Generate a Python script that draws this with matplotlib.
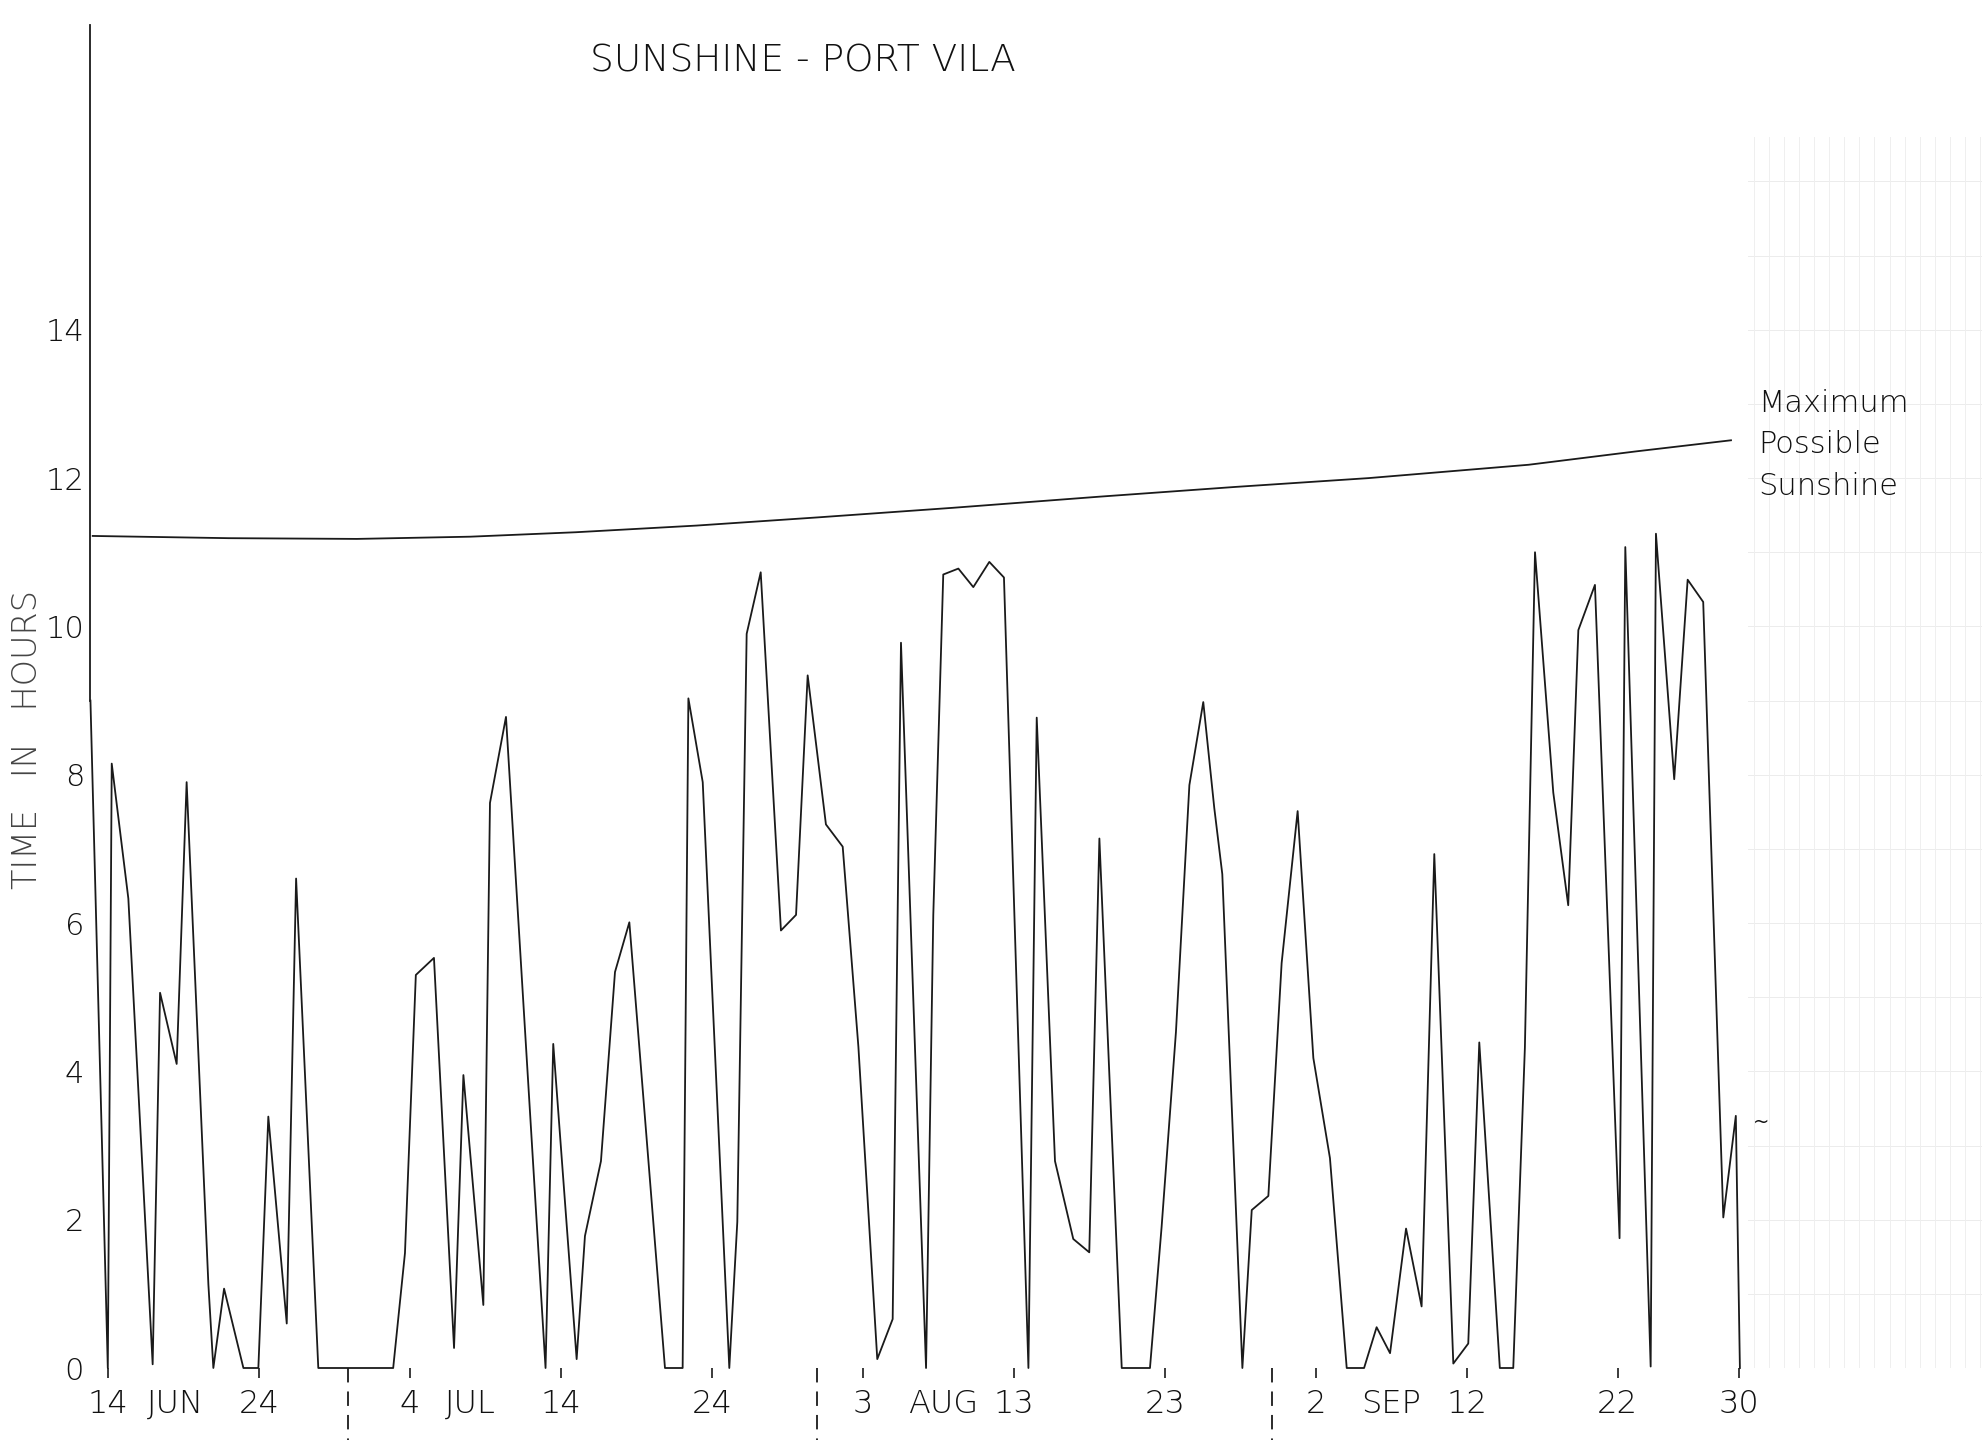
# Sunshine at Port Vila, 14 June - 30 September (redrawn from a hand plotted chart)
import matplotlib
matplotlib.use("Agg")
import matplotlib.pyplot as plt

# daily sunshine, x = days after 14 June
days = [-1.15, 0.0, 0.26, 1.36, 2.97, 3.46, 4.56, 5.22, 6.66, 6.99, 7.7, 8.98,
        9.97, 10.63, 11.85, 12.47, 13.94, 18.9, 19.68, 20.4, 21.6, 22.93, 23.55,
        24.87, 25.31, 26.37, 28.99, 29.5, 31.05, 31.6, 32.66, 33.59, 34.54, 36.9,
        38.07, 38.45, 39.4, 41.16, 41.69, 42.31, 43.24, 44.58, 45.58, 46.35, 47.56,
        48.67, 49.71, 50.96, 51.98, 52.53, 54.19, 54.67, 55.33, 56.33, 57.32, 58.38,
        59.35, 60.97, 61.52, 62.73, 63.94, 65.0, 65.67, 67.15, 69.02, 69.79, 70.74,
        71.63, 72.55, 73.28, 73.81, 75.14, 75.76, 76.86, 77.74, 78.8, 79.84, 80.94,
        82.05, 83.2, 84.03, 84.92, 85.98, 87.01, 87.85, 89.11, 90.1, 90.83, 92.19,
        93.08, 93.85, 94.52, 95.73, 96.72, 97.39, 98.49, 100.12, 100.5, 102.18,
        102.53, 103.74, 104.63, 105.66, 106.99, 107.82, 108.09]
hours = [9.0, 0.0, 8.15, 6.33, 0.05, 5.06, 4.1, 7.9, 1.13, 0.0, 1.07, 0.0,
         0.0, 3.39, 0.6, 6.6, 0.0, 0.0, 1.55, 5.3, 5.53, 0.27, 3.95,
         0.85, 7.62, 8.78, 0.0, 4.37, 0.12, 1.78, 2.79, 5.34, 6.01, 0.0,
         0.0, 9.03, 7.9, 0.0, 1.97, 9.9, 10.73, 5.9, 6.11, 9.34, 7.33,
         7.03, 4.33, 0.12, 0.66, 9.78, 0.0, 6.11, 10.7, 10.78, 10.53, 10.87,
         10.66, 0.0, 8.77, 2.79, 1.74, 1.56, 7.14, 0.0, 0.0, 1.9, 4.53,
         7.86, 8.98, 7.55, 6.66, 0.0, 2.13, 2.32, 5.46, 7.51, 4.18, 2.83,
         0.0, 0.0, 0.55, 0.2, 1.88, 0.83, 6.93, 0.06, 0.33, 4.39, 0.0,
         0.0, 4.32, 11.0, 7.76, 6.24, 9.95, 10.56, 1.75, 11.07, 0.02,
         11.25, 7.94, 10.63, 10.33, 2.03, 3.4, 0.0]

# maximum possible sunshine curve
max_days = [-1.0, 8, 16.5, 24, 31, 39, 47, 56, 65.7, 74.6, 83.5, 94.1, 101.2, 107.5]
max_hours = [11.22, 11.19, 11.18, 11.21, 11.27, 11.36, 11.47, 11.6, 11.75, 11.88,
             12.0, 12.18, 12.36, 12.51]

tick_days = [0, 10, 20, 30, 40, 50, 60, 70, 80, 90, 100, 108]
tick_labels = ["14", "24", "4", "14", "24", "3", "13", "23", "2", "12", "22", "30"]
month_names = ["JUN", "JUL", "AUG", "SEP"]
month_label_days = [4.5, 24.0, 55.3, 85.0]
month_break_days = [15.9, 47.0, 77.1]

ink = "#1a1a1a"
txt = "#111111"

fig = plt.figure(figsize=(19.83, 14.40), dpi=100)
ax = fig.add_axes([0.04523, 0.05, 0.95477, 0.93264])
ax.set_xlim(-1.2, 124.19)
ax.set_ylim(0, 18.11)

# faint graph paper showing through on the right hand side
for h in range(1, 17):
    ax.plot([108.6, 124.2], [h, h], color="#ececec", lw=0.7, zorder=0)
for d in range(109, 125):
    ax.plot([d, d], [0, 16.6], color="#efefef", lw=0.7, zorder=0)

for s in ["top", "right", "bottom"]:
    ax.spines[s].set_visible(False)
ax.spines["left"].set_bounds(9.0, 18.11)
ax.spines["left"].set_color(ink)
ax.spines["left"].set_linewidth(1.3)

ax.plot(days, hours, color=ink, lw=1.3, clip_on=False)
ax.plot(max_days, max_hours, color=ink, lw=1.3)

# month boundaries
for d in month_break_days:
    ax.plot([d, d], [0.0, -1.2], color=ink, lw=1.3, ls=(0, (8, 5)), clip_on=False)

ax.set_yticks(range(0, 15, 2))
ax.tick_params(axis="y", length=0, pad=4, labelsize=22, labelcolor=txt)
ax.set_xticks(tick_days, tick_labels)
ax.tick_params(axis="x", direction="out", length=7, width=1.2, pad=8,
               labelsize=23, color=ink, labelcolor=txt)
for lab in ax.get_xticklabels() + ax.get_yticklabels():
    lab.set_fontweight("light")

for name, d in zip(month_names, month_label_days):
    ax.text(d, -0.28, name, ha="center", va="top", fontsize=23, color=txt,
            fontweight="light", clip_on=False)

ax.text(46.0, 17.63, "SUNSHINE - PORT VILA", ha="center", va="center",
        fontsize=27, color=txt, fontweight="light")
ax.text(-5.3, 8.47, "TIME   IN   HOURS", rotation=90, ha="center", va="center",
        fontsize=24, color="#444444", fontweight="light", clip_on=False)
ax.text(109.3, 12.45, "Maximum\nPossible\nSunshine", ha="left", va="center",
        fontsize=22, linespacing=1.55, color=txt, fontweight="light")
ax.text(109.5, 3.31, "~", ha="center", va="center", fontsize=14, color=txt)

fig.savefig("out.png", dpi=100)
